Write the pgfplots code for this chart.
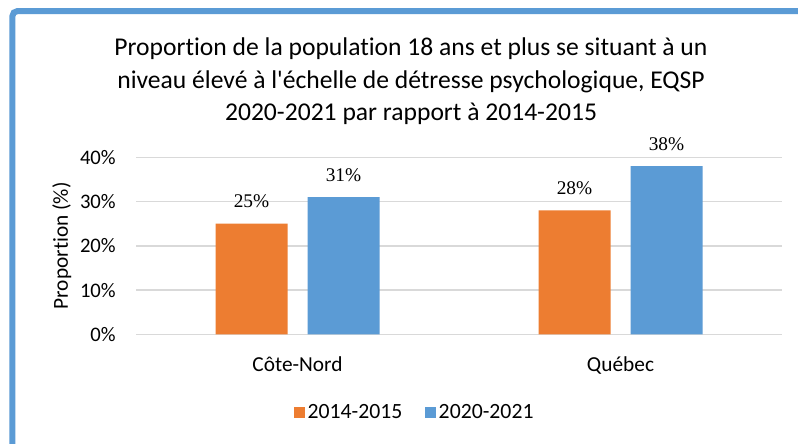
\documentclass[border=0pt]{standalone}
\usepackage{fontspec}
\setmainfont{Carlito}[Ligatures={TeX,NoCommon}]
\newfontfamily\timesf{Liberation Serif}
\usepackage{pgfplots}
\pgfplotsset{compat=1.18}
\definecolor{cOrange}{HTML}{ED7D31}
\definecolor{cBlue}{HTML}{5B9BD5}
\definecolor{cGrid}{HTML}{D9D9D9}
\begin{document}
\begin{tikzpicture}[x=0.75pt,y=-0.75pt]
\useasboundingbox (0,0) rectangle (798,443);
\fill[white] (0,0) rectangle (798,443);
\draw[cBlue, line width=4.5pt, rounded corners=4pt] (12.3,460) -- (12.3,11) -- (820,11);
\node[anchor=base, font=\fontsize{19.2}{24}\selectfont] at (411,55.5) {Proportion de la population 18 ans et plus se situant à un};
\node[anchor=base, font=\fontsize{19.2}{24}\selectfont] at (411,88) {niveau élevé à l\textquotesingle échelle de détresse psychologique, EQSP};
\node[anchor=base, font=\fontsize{19.2}{24}\selectfont] at (411,120.5) {2020-2021 par rapport à 2014-2015};
\node[rotate=90, font=\fontsize{16}{18}\selectfont] at (61.7,245.8) {Proportion (\%)};
\coordinate (axsw) at (136,334.3);
\begin{axis}[
  at={(axsw)}, anchor=south west, scale only axis,
  width=484.5pt, height=132.75pt,
  ybar=15pt, bar width=54pt,
  xmin=-0.5, xmax=1.5, ymin=0, ymax=40,
  xtick={0,1}, xticklabels={Côte-Nord,Québec},
  xtick style={draw=none}, ytick style={draw=none},
  xticklabel style={anchor=base, yshift=-23.8pt, font=\fontsize{16}{18}\selectfont},
  ytick={0,10,20,30,40},
  yticklabel={\pgfmathprintnumber{\tick}\%},
  yticklabel style={anchor=east, inner sep=0pt, xshift=-15pt, font=\fontsize{15.5}{17}\selectfont},
  /pgf/number format/assume math mode=true,
  ymajorgrids, grid style={cGrid, line width=1.1pt},
  axis line style={draw=none},
  nodes near coords={\pgfmathprintnumber{\pgfplotspointmeta}\%},
  nodes near coords style={font=\timesf\fontsize{14.5}{16}\selectfont, anchor=center, yshift=16.5pt, text=black},
  legend style={at={(0.432,-0.443)}, anchor=center, draw=none, fill=none,
    font=\fontsize{16.3}{18}\selectfont, legend columns=2,
    /tikz/every even column/.append style={column sep=15pt}},
  legend image code/.code={\fill[#1] (0pt,-4.1pt) rectangle (8.25pt,4.1pt);},
]
\addplot[fill=cOrange, draw=none] coordinates {(0,25) (1,28)};
\addlegendentry{2014-2015}
\addplot[fill=cBlue, draw=none] coordinates {(0,31) (1,38)};
\addlegendentry{2020-2021}
\end{axis}
\end{tikzpicture}
\end{document}
